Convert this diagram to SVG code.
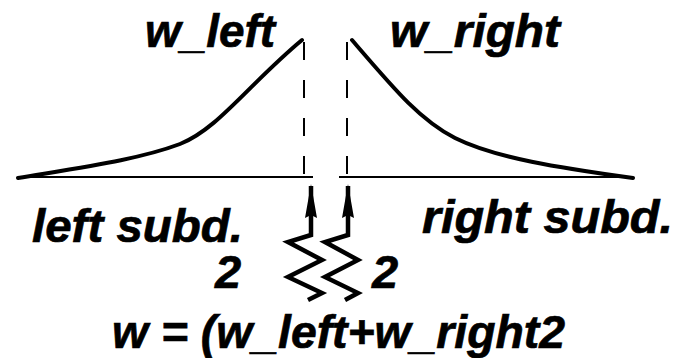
<svg xmlns="http://www.w3.org/2000/svg" width="678" height="358" viewBox="0 0 678 358">
<style>
  .t { font-family: "Liberation Sans", Arial, Helvetica, sans-serif; font-weight: bold; font-style: italic; font-size: 47px; fill: #000; stroke: #000; stroke-width: 0.7; }
  .curve { fill: none; stroke: #000; stroke-width: 4; stroke-linecap: round; }
  .base { fill: none; stroke: #000; stroke-width: 2; }
  .dash { fill: none; stroke: #000; stroke-width: 2; stroke-dasharray: 18 20; }
  .zig { fill: none; stroke: #000; stroke-width: 4.5; stroke-linejoin: miter; }
</style>
<defs>
  <marker id="ah" viewBox="0 0 34 12" refX="32" refY="6" markerWidth="34" markerHeight="12" markerUnits="userSpaceOnUse" orient="auto">
    <path d="M0,0 L34,6 L0,12 L3,6 Z" fill="#000"/>
  </marker>
</defs>
<g id="left-subdivision">
  <path class="base" d="M18,177 H313"/>
  <path class="curve" d="M18,178 C90,166 140,159 180,144 C218,129 248,85 302,40"/>
  <path class="dash" d="M304,42 V178"/>
  <text class="t" x="145" y="47" textLength="130" lengthAdjust="spacingAndGlyphs">w_left</text>
  <text class="t" x="32" y="242" textLength="211" lengthAdjust="spacingAndGlyphs">left subd.</text>
  <text class="t" x="215" y="288">2</text>
</g>
<g id="right-subdivision">
  <path class="base" d="M339,177 H633"/>
  <path class="curve" d="M352,40 C395,90 420,120 455,138 C495,158 560,168 633,178"/>
  <path class="dash" d="M347,42 V178"/>
  <text class="t" x="390" y="47" textLength="170" lengthAdjust="spacingAndGlyphs">w_right</text>
  <text class="t" x="422" y="233" textLength="251" lengthAdjust="spacingAndGlyphs">right subd.</text>
  <text class="t" x="372" y="288">2</text>
</g>
<g id="formula">
  <text class="t" x="112" y="348" textLength="453" lengthAdjust="spacingAndGlyphs">w = (w_left+w_right2</text>
</g>
<g id="connectors">
  <path class="zig" d="M308,300 L322,293 L288,277 L322,260 L288,242 L311,235 V186" marker-end="url(#ah)"/>
  <path class="zig" d="M345,300 L358,293 L325,277 L358,260 L325,242 L348,235 V186" marker-end="url(#ah)"/>
</g>
</svg>
